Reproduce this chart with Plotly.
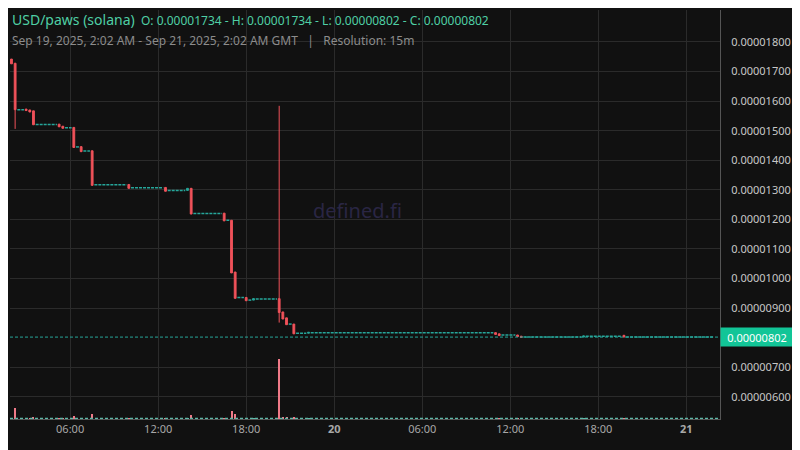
import pandas as pd
import plotly.graph_objects as go

# candles that moved (15m), prices in 1e-6 USD
candle_time = ["2025-09-19 02:00", "2025-09-19 02:15", "2025-09-19 03:00", "2025-09-19 03:15",
               "2025-09-19 03:30", "2025-09-19 05:15", "2025-09-19 05:30", "2025-09-19 06:15",
               "2025-09-19 06:45", "2025-09-19 07:30", "2025-09-19 10:00", "2025-09-19 12:30",
               "2025-09-19 14:00", "2025-09-19 14:15", "2025-09-19 16:30", "2025-09-19 17:00",
               "2025-09-19 17:15", "2025-09-19 18:00", "2025-09-19 18:30", "2025-09-19 20:15",
               "2025-09-19 20:30", "2025-09-19 20:45", "2025-09-19 21:15", "2025-09-19 22:15",
               "2025-09-20 11:00", "2025-09-20 11:15", "2025-09-20 12:30", "2025-09-20 12:45",
               "2025-09-20 17:00", "2025-09-20 19:45"]
o = [17.42, 17.28, 15.73, 15.70, 15.67, 15.22, 15.15, 15.11, 14.46, 14.32, 13.18, 13.08,
     12.98, 13.05, 12.21, 11.97, 10.22, 9.36, 9.27, 9.32, 8.87, 8.67, 8.46, 8.15,
     8.17, 8.13, 8.09, 8.05, 8.02, 8.08]
h = [17.42, 17.28, 15.73, 15.70, 15.67, 15.22, 15.15, 15.11, 14.46, 14.32, 13.18, 13.08,
     13.05, 13.05, 12.21, 11.97, 10.22, 9.36, 9.32, 15.84, 8.87, 8.67, 8.46, 8.18,
     8.17, 8.13, 8.09, 8.05, 8.06, 8.08]
l = [17.26, 15.06, 15.68, 15.63, 15.20, 15.13, 15.08, 14.43, 14.29, 13.15, 13.05, 12.95,
     12.98, 12.18, 11.95, 10.19, 9.33, 9.25, 9.27, 8.51, 8.63, 8.44, 8.13, 8.15,
     8.11, 8.07, 8.04, 8.01, 8.02, 8.02]
c = [17.26, 15.71, 15.68, 15.63, 15.20, 15.13, 15.08, 14.43, 14.29, 13.15, 13.05, 12.95,
     13.05, 12.18, 11.95, 10.19, 9.33, 9.25, 9.32, 8.85, 8.63, 8.44, 8.13, 8.18,
     8.11, 8.07, 8.04, 8.01, 8.06, 8.02]
volume = [0, 1070, 30, 30, 170, 30, 30, 270, 30, 470, 30, 30,
          30, 370, 30, 770, 470, 30, 30, 5900, 150, 150, 150, 30,
          30, 30, 30, 30, 30, 30]

# flat stretches with no price change: first candle, last candle, price
flat_start = ["2025-09-19 02:30", "2025-09-19 03:45", "2025-09-19 05:45", "2025-09-19 06:30",
              "2025-09-19 07:00", "2025-09-19 07:45", "2025-09-19 10:15", "2025-09-19 12:45",
              "2025-09-19 14:30", "2025-09-19 16:45", "2025-09-19 17:30", "2025-09-19 18:15",
              "2025-09-19 18:45", "2025-09-19 21:00", "2025-09-19 21:30", "2025-09-19 22:30",
              "2025-09-20 11:30", "2025-09-20 13:00", "2025-09-20 17:15", "2025-09-20 20:00"]
flat_end = ["2025-09-19 02:45", "2025-09-19 05:00", "2025-09-19 06:00", "2025-09-19 06:30",
            "2025-09-19 07:15", "2025-09-19 09:45", "2025-09-19 12:15", "2025-09-19 13:45",
            "2025-09-19 16:15", "2025-09-19 16:45", "2025-09-19 17:45", "2025-09-19 18:15",
            "2025-09-19 20:00", "2025-09-19 21:00", "2025-09-19 22:00", "2025-09-20 10:45",
            "2025-09-20 12:15", "2025-09-20 16:45", "2025-09-20 19:30", "2025-09-21 01:45"]
flat_price = [15.71, 15.21, 15.10, 14.45, 14.31, 13.17, 13.07, 12.98, 12.20, 11.97, 9.36, 9.27,
              9.31, 8.46, 8.15, 8.17, 8.09, 8.02, 8.05, 8.02]

last_price = 8.02
y_ticks = [6, 7, 9, 10, 11, 12, 13, 14, 15, 16, 17, 18]
x_ticks = ["2025-09-19 06:00", "2025-09-19 12:00", "2025-09-19 18:00", "2025-09-20 00:00",
           "2025-09-20 06:00", "2025-09-20 12:00", "2025-09-20 18:00", "2025-09-21 00:00"]
x_labels = ["06:00", "12:00", "18:00", "<b>20</b>", "06:00", "12:00", "18:00", "<b>21</b>"]

UP = "#26a69a"
DOWN = "#f0525a"
BG = "#111111"
GRID = "#2b2b2b"

t = pd.to_datetime(candle_time)
scale = 1e-6
half = pd.Timedelta(minutes=6)

fig = go.Figure()

# flat candles as short dashes
fx, fy = [], []
for s, e, p in zip(flat_start, flat_end, flat_price):
    fx += [pd.Timestamp(s) - half, pd.Timestamp(e) + half, None]
    fy += [p * scale, p * scale, None]
fig.add_trace(go.Scatter(x=fx, y=fy, mode="lines", hoverinfo="skip",
                         line=dict(color=UP, width=1.5, dash="3px,1px")))

fig.add_trace(go.Candlestick(
    x=t, open=[v * scale for v in o], high=[v * scale for v in h],
    low=[v * scale for v in l], close=[v * scale for v in c],
    increasing=dict(line=dict(color=UP, width=1), fillcolor=UP),
    decreasing=dict(line=dict(color=DOWN, width=1), fillcolor=DOWN),
    whiskerwidth=0))

vol_colors = ["#f07a88" if cc < oo else "#5fb8a8" for oo, cc in zip(o, c)]
fig.add_trace(go.Bar(x=t, y=volume, yaxis="y2", marker_color=vol_colors,
                     width=15 * 60 * 1000 * 0.55, marker_line_width=0))

# volume baseline and last price line
fig.add_shape(type="line", xref="paper", yref="y2", x0=0, x1=1, y0=40, y1=40,
              line=dict(color="#5fb8a8", width=1.5, dash="3px,2px"))
fig.add_shape(type="line", xref="paper", yref="y", x0=0, x1=1,
              y0=last_price * scale, y1=last_price * scale,
              line=dict(color=UP, width=1, dash="3px,2px"))
fig.add_annotation(xref="paper", yref="y", x=1, y=last_price * scale, xanchor="left",
                   text="0.00000802", showarrow=False, bgcolor="#12c597",
                   font=dict(color="#ffffff", size=11, family="Noto Sans"),
                   borderpad=4, width=64, height=10)

fig.add_annotation(xref="paper", yref="paper", x=0.49, y=0.51, text="defined.fi",
                   showarrow=False, font=dict(color="#2a2644", size=20, family="Noto Sans"))

fig.add_annotation(xref="paper", yref="paper", x=0, y=0.9776, xanchor="left", yanchor="middle",
                   showarrow=False,
                   text="<span style='font-size:14px'>USD/paws (solana)</span>  "
                        "O: 0.00001734 - H: 0.00001734 - L: 0.00000802 - C: 0.00000802",
                   font=dict(color="#4fcfa5", size=12, family="Noto Sans"))
fig.add_annotation(xref="paper", yref="paper", x=0, y=0.925, xanchor="left", yanchor="middle",
                   showarrow=False,
                   text="Sep 19, 2025, 2:02 AM - Sep 21, 2025, 2:02 AM GMT   |   Resolution: 15m",
                   font=dict(color="#8c8c8c", size=12, family="Noto Sans"))

# the page body adds an 8px offset, so the figure is 8px smaller and margins shift
fig.update_layout(
    width=792, height=442, paper_bgcolor=BG, plot_bgcolor=BG, showlegend=False,
    margin=dict(l=2, r=80, t=2, b=31, autoexpand=False), bargap=0,
    font=dict(family="Noto Sans", color="#c8c8c8", size=11),
    xaxis=dict(range=["2025-09-19 01:54", "2025-09-21 02:18"], rangeslider_visible=False,
               tickvals=x_ticks, ticktext=x_labels, gridcolor=GRID, showline=True,
               linecolor="#555555", zeroline=False, ticks="", tickfont=dict(color="#a8a8a8"),
               automargin=False),
    yaxis=dict(range=[5.25e-6, 19.08e-6], side="right", tickvals=[v * scale for v in y_ticks],
               tickformat=".8f", gridcolor=GRID, showline=True, linecolor="#555555",
               zeroline=False, ticklabelstandoff=8, automargin=False),
    yaxis2=dict(overlaying="y", range=[0, 40100], visible=False, fixedrange=True),
)

fig.write_html("out.html")
